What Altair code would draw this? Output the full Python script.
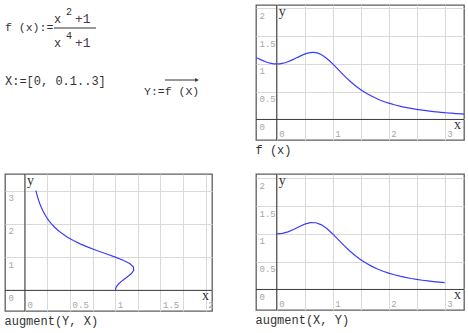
import altair as alt
import pandas as pd

# Sample points X = 0, 0.1 .. 3 and the vector Y = f(X), f(x) = (x^2 + 1) / (x^4 + 1)
X_VALS = [0.0, 0.1, 0.2, 0.3, 0.4, 0.5, 0.6, 0.7, 0.8, 0.9, 1.0,
          1.1, 1.2, 1.3, 1.4, 1.5, 1.6, 1.7, 1.8, 1.9, 2.0,
          2.1, 2.2, 2.3, 2.4, 2.5, 2.6, 2.7, 2.8, 2.9, 3.0]
Y_VALS = [1.0, 1.0099, 1.0383, 1.0812, 1.1310, 1.1765, 1.2040, 1.2015, 1.1635, 1.0929, 1.0,
          0.8969, 0.7939, 0.6976, 0.6114, 0.5361, 0.4713, 0.4159, 0.3688, 0.3285, 0.2941,
          0.2646, 0.2391, 0.2170, 0.1978, 0.1810, 0.1662, 0.1531, 0.1415, 0.1312, 0.1220]

# f(x) over the whole horizontal range of its own plot
FX_VALS = [-0.37, -0.3, -0.2, -0.1] + X_VALS + [3.1, 3.2, 3.3, 3.345]
FY_VALS = [1.116, 1.0812, 1.0383, 1.0099] + Y_VALS + [0.1137, 0.1062, 0.0994, 0.0966]

# Axis limits, grid lines and tick labels
F_XDOM = [-0.37, 3.345]
F_YDOM = [-0.37, 2.06]
XY_YDOM = [-0.37, 2.08]
F_XGRID = [0, 0.5, 1, 1.5, 2, 2.5, 3]
F_XLAB = [0, 1, 2, 3]
F_YGRID = [0, 0.5, 1, 1.5, 2]
F_YLAB = [0, 0.5, 1, 1.5, 2]

YX_XDOM = [-0.22, 2.07]
YX_YDOM = [-0.62, 3.5]
YX_XGRID = [0, 0.25, 0.5, 0.75, 1, 1.25, 1.5, 1.75, 2]
YX_XLAB = [0, 0.5, 1, 1.5, 2]
YX_YGRID = [0, 1, 2, 3]
YX_YLAB = [0, 1, 2, 3]

BLUE = "#3c3cff"
GRID = "#d9d9d9"
ZERO = "#3a3a3a"
TICK = "#a6a6a6"
INK = "#333333"
MONO = "Liberation Mono"
SERIF = "Liberation Serif"

# one-row source for rules and annotations
single = alt.Data(values=[{}])


def label_expr(shown):
    return f"indexof({list(shown)}, datum.value) >= 0 ? datum.label : ''"


def panel(df, xcol, ycol, order, xdom, ydom, xgrid, xlab, ygrid, ylab, w, h, caption, interp="linear"):
    xs = alt.Scale(domain=xdom, nice=False, zero=False)
    ys = alt.Scale(domain=ydom, nice=False, zero=False)
    x_axis = alt.Axis(values=xgrid, format="~g", labelExpr=label_expr(xlab),
                      grid=True, gridColor=GRID, gridWidth=1, ticks=False, domain=False,
                      labelPadding=-3.5, labelBaseline="alphabetic", labelAlign="left", labelOffset=2,
                      labelFlush=False, labelOverlap=False, labelFont=MONO, labelFontSize=9,
                      labelColor=TICK,
                      title=caption, titleX=-1, titleY=9.5, titleAlign="left", titleBaseline="middle",
                      titleFont=MONO, titleFontSize=12, titleFontWeight="normal", titleColor=INK)
    y_axis = alt.Axis(values=ygrid, format="~g", labelExpr=label_expr(ylab),
                      grid=True, gridColor=GRID, gridWidth=1, ticks=False, domain=False,
                      labelPadding=-3, labelBaseline="top", labelAlign="left", labelOffset=3,
                      labelFlush=False, labelOverlap=False, labelFont=MONO, labelFontSize=9,
                      labelColor=TICK, title=None)

    def xd(v):
        return alt.XDatum(v, type="quantitative", scale=xs, axis=x_axis)

    def yd(v):
        return alt.YDatum(v, type="quantitative", scale=ys, axis=y_axis)

    line = alt.Chart(df).mark_line(color=BLUE, strokeWidth=1.2, clip=True, interpolate=interp).encode(
        x=alt.X(xcol, type="quantitative", scale=xs, axis=x_axis),
        y=alt.Y(ycol, type="quantitative", scale=ys, axis=y_axis),
        order=alt.Order(order, type="quantitative"))

    h_zero = alt.Chart(single).mark_rule(color=ZERO, strokeWidth=1).encode(y=yd(0))
    v_zero = alt.Chart(single).mark_rule(color=ZERO, strokeWidth=1).encode(x=xd(0))

    y_name = alt.Chart(single).mark_text(text="y", font=SERIF, fontSize=14, color=INK,
                                         align="left", baseline="alphabetic", dx=2, dy=11).encode(
        x=xd(0), y=yd(ydom[1]))
    x_name = alt.Chart(single).mark_text(text="x", font=SERIF, fontSize=14, color=INK,
                                         align="right", baseline="alphabetic", dx=-3, dy=10).encode(
        x=xd(xdom[1]), y=yd(0))

    return alt.layer(h_zero, v_zero, line, y_name, x_name).properties(width=w, height=h)


f_df = pd.DataFrame({"x": FX_VALS, "y": FY_VALS})
xy_df = pd.DataFrame({"X": X_VALS, "Y": Y_VALS})

f_plot = panel(f_df, "x", "y", "x", F_XDOM, F_YDOM, F_XGRID, F_XLAB, F_YGRID, F_YLAB,
               208, 135, "f (x)", interp="natural")
yx_plot = panel(xy_df, "Y", "X", "X", YX_XDOM, YX_YDOM, YX_XGRID, YX_XLAB, YX_YGRID, YX_YLAB,
                207, 137, "augment(Y, X)")
xy_plot = panel(xy_df, "X", "Y", "X", F_XDOM, XY_YDOM, F_XGRID, F_XLAB, F_YGRID, F_YLAB,
                208, 136, "augment(X, Y)")


# Worksheet definitions in the top-left region
def txt(s, x, y, size=12, font=MONO, color=INK):
    return alt.Chart(single).mark_text(font=font, fontSize=size, color=color, align="left",
                                       baseline="alphabetic").encode(
        x=alt.value(x), y=alt.value(y), text=alt.value(s))


PLUS = "#4d3656"
sheet = alt.layer(
    txt("f (x):=", 0, 26, 11.5),
    txt("x", 49, 18),
    txt("2", 61, 10, 10),
    txt("+1", 70, 18, 13, color=PLUS),
    alt.Chart(single).mark_rule(color=INK, strokeWidth=1).encode(
        x=alt.value(49), x2=alt.value(91), y=alt.value(23)),
    txt("x", 49, 42),
    txt("4", 61, 34, 10),
    txt("+1", 70, 42, 13, color=PLUS),
    txt("X:=[0, 0.1..3]", 0, 80, 12),
    txt("Y:=f (X)", 139, 90, 11.5),
    alt.Chart(single).mark_rule(color=INK, strokeWidth=1).encode(
        x=alt.value(160), x2=alt.value(192), y=alt.value(75)),
    alt.Chart(single).mark_point(shape="triangle-right", filled=True, color=INK, size=18, opacity=1).encode(
        x=alt.value(192), y=alt.value(75)),
).properties(width=207, height=135, view=alt.ViewBackground(strokeOpacity=0))

chart = alt.concat(
    sheet, f_plot, yx_plot, xy_plot,
    columns=2, spacing={"row": 34, "column": 44}, bounds="flush",
).properties(
    padding={"left": 3, "top": 3, "right": 0, "bottom": 0},
    background="white",
).configure_view(stroke="#5e5e5e", strokeWidth=1.3)

chart.save("out.html", embed_options={"renderer": "svg", "actions": False})
